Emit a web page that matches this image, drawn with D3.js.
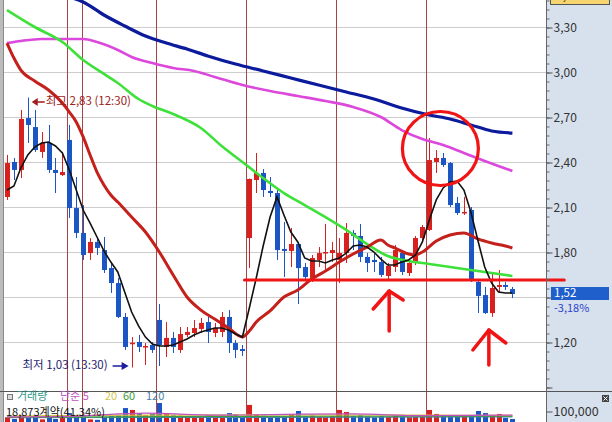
<!DOCTYPE html>
<html>
<head>
<meta charset="utf-8">
<script src="https://cdn.jsdelivr.net/npm/d3@7"></script>
<style>
body { margin: 0; background: #fff; overflow: hidden; }
text { font-family: "Noto Sans CJK KR", "DejaVu Sans", sans-serif; }
</style>
</head>
<body>
<script>
// candles (oldest -> newest), prices
var opens  = [2.167,2.40,2.347,2.693,2.633,2.467,2.527,2.347,2.313,2.547,
              2.093,1.927,1.793,1.867,1.813,1.693,1.593,1.367,1.187,1.20,
              1.167,1.18,1.347,1.167,1.227,1.147,1.247,1.26,1.287,1.333,
              1.26,1.267,1.367,1.193,1.153,1.893,2.28,2.327,2.207,2.193,
              1.82,1.807,1.853,1.70,1.627,1.747,1.793,1.793,1.747,1.793,
              1.927,1.907,1.767,1.747,1.733,1.64,1.70,1.793,1.66,1.733,
              1.893,1.947,2.40,2.427,2.393,2.127,2.06,2.08,1.60,1.513,
              1.393,1.567,1.58,1.553];
var highs  = [2.447,2.427,2.747,2.83,2.747,2.60,2.647,2.427,2.467,2.647,
              2.30,2.113,1.893,1.893,1.90,1.727,1.627,1.393,1.233,1.247,
              1.193,1.20,1.453,1.333,1.267,1.30,1.30,1.347,1.36,1.367,
              1.327,1.40,1.413,1.213,1.18,2.29,2.46,2.353,2.30,2.213,
              2.0,1.96,1.867,1.727,1.78,1.833,1.987,1.867,1.893,1.993,
              1.947,1.987,1.793,1.793,1.767,1.727,1.847,1.813,1.747,1.907,
              1.98,2.56,2.48,2.46,2.40,2.167,2.167,2.10,1.613,1.567,
              1.66,1.68,1.60,1.567];
var lows   = [2.147,2.28,2.293,2.527,2.467,2.427,2.327,2.193,2.307,2.027,
              1.893,1.747,1.747,1.78,1.66,1.527,1.36,1.147,1.03,1.133,
              1.047,1.127,1.04,1.10,1.127,1.127,1.233,1.233,1.26,1.193,
              1.233,1.233,1.127,1.093,1.107,1.693,2.193,2.167,2.167,1.747,
              1.633,1.70,1.453,1.613,1.60,1.70,1.68,1.733,1.593,1.727,
              1.813,1.733,1.667,1.667,1.633,1.613,1.667,1.647,1.64,1.713,
              1.88,1.94,2.327,2.367,2.10,2.047,2.047,1.60,1.393,1.387,
              1.367,1.533,1.547,1.493];
var closes = [2.393,2.347,2.687,2.647,2.48,2.527,2.347,2.327,2.333,2.093,
              1.927,1.78,1.867,1.827,1.68,1.593,1.367,1.167,1.195,1.167,
              1.173,1.147,1.18,1.227,1.167,1.253,1.267,1.293,1.327,1.267,
              1.293,1.367,1.193,1.147,1.14,2.287,2.327,2.213,2.193,1.813,
              1.807,1.853,1.693,1.633,1.76,1.793,1.80,1.813,1.793,1.927,
              1.907,1.767,1.727,1.733,1.647,1.707,1.813,1.667,1.727,1.893,
              1.967,2.413,2.427,2.38,2.113,2.06,2.067,1.613,1.507,1.393,
              1.56,1.58,1.567,1.52];
var volumes = [70000,62000,80000,72000,75000,60000,68000,62000,70000,90000,
               78000,74000,60000,58000,72000,76000,82000,114000,105000,90000,
               80000,86000,138000,86000,80000,78000,72000,76000,74000,80000,
               68000,78000,90000,84000,70000,129000,81000,78000,70000,76000,
               74000,84000,100000,76000,78000,72000,70000,76000,105000,95000,
               76000,80000,74000,70000,76000,72000,78000,74000,70000,72000,
               74000,105000,86000,80000,78000,74000,76000,81000,100000,90000,
               81000,86000,67000,62000];

// moving averages
var ma5 = [2.213,2.24,2.36,2.447,2.50,2.527,2.533,2.507,2.46,2.347,
           2.213,2.08,1.993,1.90,1.807,1.733,1.667,1.533,1.40,1.307,
           1.233,1.187,1.173,1.173,1.18,1.20,1.22,1.247,1.267,1.28,
           1.293,1.293,1.28,1.253,1.233,1.427,1.627,1.84,2.033,2.167,
           2.047,1.933,1.867,1.76,1.74,1.74,1.727,1.747,1.76,1.793,
           1.84,1.847,1.833,1.80,1.753,1.713,1.713,1.733,1.747,1.78,
           1.867,2.013,2.147,2.227,2.267,2.273,2.213,2.067,1.88,1.70,
           1.593,1.533,1.527,1.527];
var ma20 = [[0,3.193],[1,3.093],[2,3.013],[4,2.94],[6,2.88],[8,2.793],[9,2.733],[10,2.667],
            [11,2.567],[12,2.447],[13,2.333],[14,2.247],[15,2.18],[16,2.133],[18,2.033],
            [20,1.933],[22,1.80],[24,1.647],[26,1.50],[28,1.413],[30,1.353],[32,1.293],
            [34,1.233],[35,1.273],[36,1.333],[38,1.407],[40,1.50],[42,1.547],[44,1.62],
            [46,1.673],[48,1.733],[50,1.787],[52,1.833],[54,1.88],[55,1.847],[56,1.827],
            [58,1.787],[59,1.78],[60,1.80],[62,1.873],[64,1.913],[66,1.927],[68,1.887],
            [70,1.86],[72,1.84],[73,1.827]];
var ma60 = [[0,3.413],[4,3.30],[8,3.20],[11,3.08],[14,2.987],[16,2.927],[19,2.82],[21,2.773],
            [24,2.72],[28,2.627],[31,2.507],[34,2.40],[37,2.293],[40,2.193],[43,2.113],
            [46,2.033],[49,1.947],[52,1.853],[55,1.773],[58,1.74],[61,1.72],[64,1.70],
            [67,1.68],[70,1.66],[73,1.64]];
var ma90 = [[0,3.193],[2,3.207],[5,3.22],[8,3.22],[11,3.22],[13,3.20],[16,3.147],[18,3.10],
            [21,3.06],[24,3.027],[27,3.007],[30,2.967],[34,2.913],[38,2.873],[42,2.84],
            [46,2.807],[50,2.767],[54,2.70],[57,2.613],[60,2.553],[63,2.513],[66,2.46],
            [69,2.407],[73,2.34]];
var ma120 = [[9,3.50],[11,3.467],[14,3.38],[17,3.307],[20,3.24],[23,3.193],[26,3.153],
             [29,3.107],[33,3.053],[37,3.007],[41,2.96],[45,2.913],[49,2.867],[53,2.82],
             [57,2.76],[61,2.713],[64,2.687],[67,2.647],[70,2.607],[73,2.593]];

// volume moving averages
var vol5   = [[0,72000],[10,76000],[20,90000],[30,80000],[40,84000],[50,86000],[60,78000],[73,80000]];
var vol20  = [[0,76000],[20,80000],[40,82000],[60,80000],[73,79000]];
var vol60  = [[0,70000],[30,74000],[60,76000],[73,76000]];
var vol120 = [[0,68000],[36,70000],[73,72000]];

// session separators (candle positions)
var sessions = [8.7, 10.8, 21.5, 34.5, 47.5, 60.5];

var priceTicks = [0.9,1.2,1.5,1.8,2.1,2.4,2.7,3.0,3.3,3.6];
var lastPrice = 1.52, lastChange = "-3,18%";
var dayHigh = {i: 3, p: 2.83, label: "최고 2,83 (12:30)"};
var dayLow  = {i: 18, p: 1.03, label: "최저 1,03 (13:30)"};
var supportLevel = 1.613;

var width = 612, height = 422;
var plotRight = 546, priceBottom = 390, volTop = 391;

var colors = { up: "#d8201e", down: "#1c56c4", ma5: "#111", ma20: "#c4201c",
               ma60: "#3ee03a", ma90: "#dc48dc", ma120: "#0c1a9c",
               axisBg: "#d7e1ed", grid: "#cdcdcd", session: "#a84444",
               mark: "#f01414" };

var x = d3.scaleLinear().domain([0, 73]).range([7, 512.4]);
var y = d3.scaleLinear().domain([0.9, 3.6]).range([387, -18]);
var yVol = d3.scaleLinear().domain([0, 100000]).range([432, 411]);

var fmt = d => d.toFixed(2).replace(".", ",");

var svg = d3.select("body").append("svg")
  .attr("width", width)
  .attr("height", height);

svg.append("rect").attr("width", width).attr("height", height).attr("fill", "#fff");

var defs = svg.append("defs");
defs.append("clipPath").attr("id", "clipPrice")
  .append("rect").attr("x", 3).attr("y", 0).attr("width", plotRight - 3).attr("height", priceBottom);
defs.append("clipPath").attr("id", "clipVol")
  .append("rect").attr("x", 3).attr("y", volTop).attr("width", plotRight - 3).attr("height", height - volTop);

/* axis panel background */
svg.append("rect")
  .attr("x", plotRight).attr("y", 0)
  .attr("width", width - plotRight).attr("height", height)
  .attr("fill", colors.axisBg);

/* left frame */
svg.append("rect").attr("x", 0).attr("y", 0).attr("width", 3).attr("height", height).attr("fill", "#bcbcbc");
svg.append("line").attr("x1", 3.5).attr("x2", 3.5).attr("y1", 0).attr("y2", height).attr("stroke", "#8a8a8a");

/* grid */
svg.append("g")
  .selectAll("line")
  .data(priceTicks.filter(d => d > 1 && d < 3.5))
  .enter().append("line")
  .attr("x1", 4).attr("x2", plotRight)
  .attr("y1", d => Math.round(y(d)) + 0.5)
  .attr("y2", d => Math.round(y(d)) + 0.5)
  .attr("stroke", colors.grid);

/* session lines */
svg.append("g")
  .selectAll("line")
  .data(sessions)
  .enter().append("line")
  .attr("x1", d => Math.round(x(d)) + 0.5)
  .attr("x2", d => Math.round(x(d)) + 0.5)
  .attr("y1", 0).attr("y2", height)
  .attr("stroke", colors.session)
  .attr("stroke-width", 1);

/* candles */
var candles = opens.map(function(o, i) {
  return { i: i, o: o, h: highs[i], l: lows[i], c: closes[i], v: volumes[i],
           col: closes[i] >= o ? colors.up : colors.down };
});

var price = svg.append("g").attr("clip-path", "url(#clipPrice)");

var cg = price.append("g")
  .selectAll("g")
  .data(candles)
  .enter().append("g");

cg.append("line")
  .attr("x1", d => Math.round(x(d.i)) + 0.5)
  .attr("x2", d => Math.round(x(d.i)) + 0.5)
  .attr("y1", d => y(d.h))
  .attr("y2", d => y(d.l))
  .attr("stroke", d => d.col);

cg.append("rect")
  .attr("x", d => Math.round(x(d.i)) - 2)
  .attr("y", d => y(Math.max(d.o, d.c)))
  .attr("width", 5)
  .attr("height", d => Math.max(1.5, Math.abs(y(d.o) - y(d.c))))
  .attr("fill", d => d.col);

/* moving averages */
var smooth = d3.line().x(d => x(d[0])).y(d => y(d[1])).curve(d3.curveMonotoneX);
var straight = d3.line().x(d => x(d[0])).y(d => y(d[1]));

[[ma120, colors.ma120, 3.2], [ma90, colors.ma90, 2.6], [ma60, colors.ma60, 2.6], [ma20, colors.ma20, 3]]
  .forEach(function(s) {
    price.append("path")
      .attr("d", smooth(s[0]))
      .attr("fill", "none")
      .attr("stroke", s[1])
      .attr("stroke-width", s[2])
      .attr("stroke-linejoin", "round");
  });

price.append("path")
  .attr("d", straight(ma5.map((v, i) => [i, v])))
  .attr("fill", "none")
  .attr("stroke", colors.ma5)
  .attr("stroke-width", 1.6);

/* high / low labels */
var hiY = y(dayHigh.p) + 4.5;
svg.append("line")
  .attr("x1", x(dayHigh.i) + 6).attr("x2", x(dayHigh.i) + 17)
  .attr("y1", hiY).attr("y2", hiY)
  .attr("stroke", "#a01e1e").attr("stroke-width", 1.5);
svg.append("path")
  .attr("d", d3.line()([[x(dayHigh.i) + 4, hiY], [x(dayHigh.i) + 10, hiY - 4], [x(dayHigh.i) + 10, hiY + 4]]))
  .attr("fill", "#a01e1e");
svg.append("text")
  .attr("x", x(dayHigh.i) + 18).attr("y", hiY)
  .attr("dominant-baseline", "middle")
  .style("font-size", "11.5px")
  .attr("fill", "#9a2020")
  .text(dayHigh.label);

var loY = y(dayLow.p) - 1.5;
svg.append("text")
  .attr("x", x(dayLow.i) - 24).attr("y", loY)
  .attr("text-anchor", "end")
  .attr("dominant-baseline", "middle")
  .style("font-size", "11.5px")
  .attr("fill", "#1c1c6c")
  .text(dayLow.label);
svg.append("line")
  .attr("x1", x(dayLow.i) - 19).attr("x2", x(dayLow.i) - 8)
  .attr("y1", loY).attr("y2", loY)
  .attr("stroke", "#1c1c9c").attr("stroke-width", 1.5);
svg.append("path")
  .attr("d", d3.line()([[x(dayLow.i) - 3, loY], [x(dayLow.i) - 10, loY - 4], [x(dayLow.i) - 10, loY + 4]]))
  .attr("fill", "#1c1c9c");

/* panel separator */
svg.append("line")
  .attr("x1", 0).attr("x2", width)
  .attr("y1", volTop + 0.5).attr("y2", volTop + 0.5)
  .attr("stroke", "#555");

/* volume */
var vol = svg.append("g").attr("clip-path", "url(#clipVol)");
vol.selectAll("rect")
  .data(candles)
  .enter().append("rect")
  .attr("x", d => Math.round(x(d.i)) - 2)
  .attr("y", d => yVol(d.v))
  .attr("width", 5)
  .attr("height", d => yVol(0) - yVol(d.v))
  .attr("fill", d => d.col);

var vline = d3.line().x(d => x(d[0])).y(d => yVol(d[1])).curve(d3.curveMonotoneX);
[[vol120, "#4a7fa8"], [vol60, "#3aa03a"], [vol20, "#d8c040"], [vol5, "#c050c0"]]
  .forEach(function(s) {
    vol.append("path").attr("d", vline(s[0]))
      .attr("fill", "none").attr("stroke", s[1]).attr("stroke-width", 1.2);
  });

/* volume legend */
svg.append("rect")
  .attr("x", 7.5).attr("y", 394.5).attr("width", 5).attr("height", 5)
  .attr("fill", "#ddd").attr("stroke", "#777");
var legend = [["거래량", "#2f9a86", 17], ["단순 5", "#c055c0", 60], ["20", "#d6c250", 105],
              ["60", "#3a9a3a", 123], ["120", "#4a80a8", 146]];
svg.append("g")
  .selectAll("text")
  .data(legend)
  .enter().append("text")
  .attr("x", d => d[2]).attr("y", 397)
  .attr("dominant-baseline", "middle")
  .style("font-size", "11px")
  .attr("fill", d => d[1])
  .text(d => d[0]);
svg.append("text")
  .attr("x", 6).attr("y", 413)
  .attr("dominant-baseline", "middle")
  .style("font-size", "11px")
  .attr("fill", "#111")
  .text("18,873계약(41.34%)");

/* annotations drawn on the chart */
var marks = svg.append("g")
  .attr("fill", "none")
  .attr("stroke", colors.mark)
  .attr("stroke-linecap", "round")
  .attr("stroke-linejoin", "round");

marks.append("line")
  .attr("x1", x(34.3)).attr("x2", x(80.5))
  .attr("y1", y(supportLevel)).attr("y2", y(supportLevel))
  .attr("stroke-width", 3);

marks.append("ellipse")
  .attr("cx", x(62.6)).attr("cy", y(2.49))
  .attr("rx", 38).attr("ry", 37)
  .attr("stroke-width", 3.2);

var arrows = [{i: 55.2, top: 1.54, bottom: 1.273, l: [-16, 18], r: [14, 9]},
              {i: 69.6, top: 1.28, bottom: 1.047, l: [-16, 20], r: [17, 13]}];
arrows.forEach(function(a) {
  var ax = x(a.i), ay = y(a.top);
  marks.append("path")
    .attr("d", d3.line()([[ax, ay], [ax, y(a.bottom)]]))
    .attr("stroke-width", 3.5);
  marks.append("path")
    .attr("d", d3.line()([[ax + a.l[0], ay + a.l[1]], [ax, ay], [ax + a.r[0], ay + a.r[1]]]))
    .attr("stroke-width", 3.5);
});

/* right axis */
svg.append("line")
  .attr("x1", plotRight + 0.5).attr("x2", plotRight + 0.5)
  .attr("y1", 0).attr("y2", height)
  .attr("stroke", "#666");

var minorTicks = d3.range(0, 46).map(k => Math.round((0.9 + k * 0.06) * 100) / 100);
var minorAxis = svg.append("g")
  .attr("transform", `translate(${plotRight + 0.5},0.5)`)
  .call(d3.axisRight(y).tickValues(minorTicks).tickSize(3).tickFormat(""));
minorAxis.select(".domain").remove();
minorAxis.selectAll("line").attr("stroke", "#666");

var showLabel = d => d > 1 && d < 3.5 && d !== 1.5;
var mainAxis = svg.append("g")
  .attr("transform", `translate(${plotRight + 0.5},0.5)`)
  .call(d3.axisRight(y).tickValues(priceTicks).tickSize(6).tickPadding(1)
    .tickFormat(d => showLabel(d) ? fmt(d) : ""));
mainAxis.select(".domain").remove();
mainAxis.selectAll("line").attr("stroke", "#555");
mainAxis.selectAll("text")
  .style("font-family", "'Noto Sans CJK KR', sans-serif")
  .style("font-size", "12px")
  .attr("fill", "#333");
mainAxis.selectAll("text").filter(d => !showLabel(d)).remove();

/* top cut-off label */
svg.append("rect")
  .attr("x", 550.5).attr("y", -9.5).attr("width", 59).attr("height", 14)
  .attr("fill", "#f6d46e").attr("stroke", "#555");
svg.append("text")
  .attr("x", 556).attr("y", -3)
  .attr("dominant-baseline", "middle")
  .style("font-size", "12px").attr("fill", "#333")
  .text("3,60");

/* last price box */
svg.append("rect")
  .attr("x", 551).attr("y", y(lastPrice) - 7)
  .attr("width", 58).attr("height", 13)
  .attr("fill", "#1f5fcc");
svg.append("text")
  .attr("x", 554).attr("y", y(lastPrice))
  .attr("dominant-baseline", "middle")
  .style("font-size", "11.5px").attr("fill", "#fff")
  .text(fmt(lastPrice));
svg.append("text")
  .attr("x", 554).attr("y", y(lastPrice) + 15)
  .attr("dominant-baseline", "middle")
  .style("font-size", "11px").attr("fill", "#2a44c8")
  .text(lastChange);

/* volume axis */
var volAxis = svg.append("g")
  .attr("transform", `translate(${plotRight + 0.5},0.5)`)
  .call(d3.axisRight(yVol).tickValues([100000]).tickSize(6).tickPadding(1)
    .tickFormat(d3.format(",")));
volAxis.select(".domain").remove();
volAxis.selectAll("line").attr("stroke", "#555");
volAxis.selectAll("text")
  .style("font-family", "'Noto Sans CJK KR', sans-serif")
  .style("font-size", "12.5px")
  .attr("fill", "#333");

svg.append("rect")
  .attr("x", 602).attr("y", 395).attr("width", 7).attr("height", 7)
  .attr("fill", "#444");
svg.append("path")
  .attr("d", "M603.5,396.5L607.5,400.5M607.5,396.5L603.5,400.5")
  .attr("stroke", "#fff").attr("stroke-width", 1);
</script>
</body>
</html>
